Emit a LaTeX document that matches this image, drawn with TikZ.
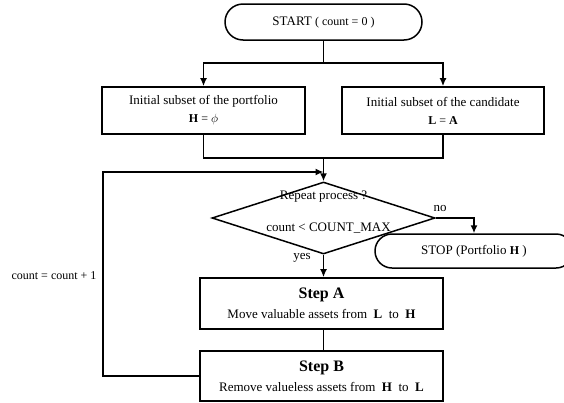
\documentclass[tikz,border=0pt]{standalone}
\usepackage{fontspec}
\setmainfont{Liberation Serif}
\usetikzlibrary{shapes.geometric,shapes.misc,arrows.meta}
\begin{document}
\begin{tikzpicture}[x=1pt,y=-1pt,
  line width=1.5pt,
  txt/.style={font=\fontsize{13}{18}\selectfont, align=center, inner sep=0pt},
  box/.style={draw, rectangle, line width=1.7pt, align=center, inner sep=0pt,
    font=\fontsize{13}{18}\selectfont},
  term/.style={draw, rounded rectangle, line width=1.5pt, inner sep=0pt,
    font=\fontsize{13}{14}\selectfont},
  dec/.style={draw, diamond, line width=1.5pt, inner sep=0pt},
  arr/.style={-{Latex[length=8pt,width=7pt]}}]
\useasboundingbox (0,0) rectangle (564,402);
\clip (0,0) rectangle (564,402);

\node[term, minimum width=197pt, minimum height=36pt] (start) at (323.5,22)
  {START {\fontsize{12}{13}\selectfont( count = 0 )}};

\node[box, minimum width=203pt, minimum height=47pt] (box1) at (203.5,110.5)
  {Initial subset of the portfolio\\ {\fontsize{12}{13}\selectfont\textbf{H} = $\phi$}};
\node[box, minimum width=202pt, minimum height=47pt] (box2) at (443,110.5)
  {Initial subset of the candidate\\ {\fontsize{12}{13}\selectfont\textbf{L} = \textbf{A}}};

\coordinate (j1) at (323.5,63);
\coordinate (j2) at (323.5,158);
\coordinate (j3) at (323.5,172);
\coordinate (lp) at (103,172);

\node[dec, minimum width=223pt, minimum height=72pt] (dec) at (323.5,218) {};
\node[txt] (q1) at (323.5,197) {Repeat process ?};
\node[txt] (q2) at (328.5,228) {count < COUNT\_MAX};

\node[term, minimum width=198pt, minimum height=34pt] (stop) at (474,251)
  {STOP (Portfolio {\fontsize{12}{13}\selectfont\textbf{H}} )};

\node[box, minimum width=243pt, minimum height=51pt, font=\fontsize{13}{20}\selectfont] (stepA) at (321.5,303.5)
  {{\fontsize{16}{17}\selectfont\textbf{Step A}}\\ Move valuable assets from \ \textbf{L} \ to \ \textbf{H}};
\node[box, minimum width=243pt, minimum height=50pt, font=\fontsize{13}{20}\selectfont] (stepB) at (321.5,376)
  {{\fontsize{16}{17}\selectfont\textbf{Step B}}\\ Remove valueless assets from \ \textbf{H} \ to \ \textbf{L}};

\node[txt] (no) at (440,208) {no};
\node[txt] (yes) at (302,258) {yes};
\node[txt, font=\fontsize{12}{14}\selectfont] (cnt) at (54,276) {count = count + 1};

\draw (start.south) -- (j1);
\draw[arr] (j1) -| (box1.north);
\draw[arr] (j1) -| (box2.north);
\draw (box1.south) |- (j2);
\draw (box2.south) |- (j2);
\draw[arr] (j2) -- (dec.north);
\draw[arr] (dec.east) -| (stop.north);
\draw[arr] (dec.south) -- (dec.south |- stepA.north);
\draw (stepA.south -| dec.south) -- (stepB.north -| dec.south);
\draw[arr] (stepB.west) -| (lp) -- (j3);
\end{tikzpicture}
\end{document}
